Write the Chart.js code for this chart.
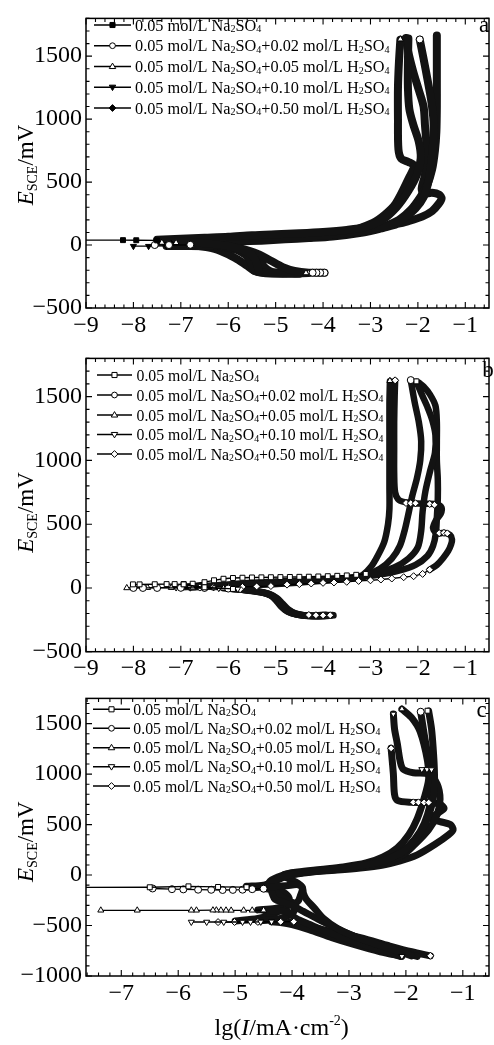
<!DOCTYPE html>
<html><head><meta charset="utf-8">
<script src="https://cdn.jsdelivr.net/npm/chart.js@4/dist/chart.umd.min.js"></script>
<style>
html,body{margin:0;padding:0;background:#fff;}
#wrap{position:relative;width:494px;height:1045px;overflow:hidden;background:#fff;}
canvas{position:absolute;left:0;}
</style></head><body>
<div id="wrap">
<canvas id="ca" width="494" height="340" style="top:0px"></canvas>
<canvas id="cb" width="494" height="340" style="top:340px"></canvas>
<canvas id="cc" width="494" height="365" style="top:680px"></canvas>
</div>
<script>
// ---------- labels ----------
const legendLabels = [
  "0.05 mol/L Na{2}SO{4}",
  "0.05 mol/L Na{2}SO{4}+0.02 mol/L H{2}SO{4}",
  "0.05 mol/L Na{2}SO{4}+0.05 mol/L H{2}SO{4}",
  "0.05 mol/L Na{2}SO{4}+0.10 mol/L H{2}SO{4}",
  "0.05 mol/L Na{2}SO{4}+0.50 mol/L H{2}SO{4}"
];
const panelLetters = ["a","b","c"];
const xTicksAB = [-9,-8,-7,-6,-5,-4,-3,-2,-1];
const yTicksAB = [-500,0,500,1000,1500];
const xTicksC = [-7,-6,-5,-4,-3,-2,-1];
const yTicksC = [-1000,-500,0,500,1000,1500];

// ---------- panel a : [lgI, E(mV)] ----------
const a1Cath = [[-5.35,-212],[-5.38,-170],[-5.42,-125],[-5.5,-80],[-5.7,-40],[-6.0,-8],[-6.5,15],[-7.0,30],[-7.5,37]];
const a1Marks = [[-7.5,37],[-7.94,38],[-8.22,39],[-9.8,40]];
const a1Anod = [[-7.5,42],[-7.0,50],[-6.5,58],[-6.0,66],[-5.5,78],[-5.0,86],[-4.5,93],[-4.0,103],[-3.5,120],[-3.1,145],[-2.75,200],[-2.45,300],[-2.2,430],[-2.02,560],[-1.94,690],[-1.98,820],[-2.1,960],[-2.18,1080],[-2.21,1250],[-2.21,1450],[-2.2,1640]];

const a2Cath = [[-3.97,-220],[-4.3,-219],[-4.6,-205],[-4.85,-175],[-5.1,-125],[-5.35,-75],[-5.7,-30],[-6.2,-5],[-6.8,2]];
const a2Marks = [[-6.8,2],[-7.25,0],[-7.55,0],null,[-3.97,-220],[-4.06,-220],[-4.14,-220],[-4.22,-220],null,[-1.96,1633]];
const a2Anod = [[-6.8,8],[-6.5,15],[-6.0,28],[-5.5,40],[-5.0,52],[-4.5,62],[-4.0,75],[-3.5,92],[-3.0,118],[-2.6,155],[-2.3,210],[-2.05,290],[-1.88,380],[-1.78,500],[-1.72,650],[-1.68,800],[-1.67,980],[-1.72,1150],[-1.8,1320],[-1.88,1480],[-1.96,1630]];

const a3Cath = [[-4.3,-222],[-4.6,-226],[-4.9,-228],[-5.2,-222],[-5.45,-205],[-5.5,-160],[-5.55,-110],[-5.75,-50],[-6.1,-10],[-6.6,8],[-7.1,18]];
const a3Marks = [[-7.1,18],[-7.4,20],null,[-4.3,-222],[-4.36,-222],null,[-2.37,1635]];
const a3Anod = [[-7.1,24],[-6.5,35],[-6.0,46],[-5.5,57],[-5.0,67],[-4.5,77],[-4.0,88],[-3.5,104],[-2.95,176],[-2.7,240],[-2.47,328],[-2.19,532],[-2.08,630],[-2.2,660],[-2.35,685],[-2.41,760],[-2.42,1000],[-2.42,1250],[-2.4,1450],[-2.37,1630]];

const a4Cath = [[-4.5,-228],[-4.8,-225],[-5.1,-210],[-5.25,-170],[-5.3,-130],[-5.45,-80],[-5.8,-35],[-6.3,-12],[-7.0,-8],[-7.3,-7]];
const a4Marks = [[-7.3,-7],[-7.68,-9],[-8.0,-9]];
const a4Anod = [[-7.3,-2],[-7.0,5],[-6.5,18],[-6.0,30],[-5.5,42],[-5.0,55],[-4.5,65],[-4.0,78],[-3.5,95],[-3.0,120],[-2.7,150],[-2.4,200],[-2.15,280],[-1.95,380],[-1.8,480],[-1.7,600],[-1.64,750],[-1.61,900],[-1.6,1100],[-1.6,1300],[-1.6,1500],[-1.6,1665]];

const a5Cath = [[-4.45,-222],[-4.75,-222],[-5.0,-225],[-5.25,-222],[-5.45,-205],[-5.6,-165],[-5.8,-115],[-6.05,-65],[-6.35,-25],[-6.8,0],[-7.2,10]];
const a5Marks = [[-7.2,10],[-7.5,12]];
const a5Anod = [[-7.2,15],[-6.8,18],[-6.3,22],[-5.8,28],[-5.3,35],[-4.8,45],[-4.3,55],[-3.8,68],[-3.16,100],[-2.8,130],[-2.47,163],[-2.2,190],[-1.91,226],[-1.7,270],[-1.56,328],[-1.5,370],[-1.55,400],[-1.7,415],[-1.88,410],[-1.92,450],[-1.86,540],[-1.82,650],[-1.82,800],[-1.85,950],[-1.88,1100],[-1.98,1230],[-2.1,1380],[-2.2,1530],[-2.25,1645]];

// ---------- panel b ----------
const b1Cath = [[-3.84,-215],[-4.15,-222],[-4.45,-216],[-4.68,-195],[-4.83,-160],[-4.93,-115],[-5.03,-75],[-5.2,-45],[-5.5,-22],[-5.9,-8]];
const b1Marks = [[-5.9,-8],[-6.5,5],[-6.94,28],[-7.13,30],[-7.3,30],[-7.55,29],[-7.87,28],[-8.01,28],null,
  [-6.94,30],[-6.75,33],[-6.5,45],[-6.3,60],[-6.1,72],[-5.9,78],[-5.7,80],[-5.5,82],[-5.3,83],[-5.1,84],[-4.9,85],[-4.7,86],[-4.5,87],[-4.3,88],[-4.1,90],[-3.9,92],[-3.7,95],[-3.5,98],[-3.3,103],[-3.1,110],null,[-2.03,1620]];
const b1Anod = [[-3.1,110],[-2.8,125],[-2.5,160],[-2.2,230],[-2.0,320],[-1.93,450],[-1.9,600],[-1.84,760],[-1.74,920],[-1.64,1060],[-1.63,1200],[-1.7,1320],[-1.8,1420],[-1.92,1520],[-2.03,1616]];

const b2Cath = [[-3.9,-212],[-4.2,-218],[-4.5,-212],[-4.72,-190],[-4.86,-150],[-4.96,-105],[-5.07,-65],[-5.25,-38],[-5.6,-18],[-6.0,-5]];
const b2Marks = [[-6.0,-5],[-6.5,0],[-7.0,1],[-7.5,0],[-7.8,0],[-8.0,0],null,[-2.15,1630]];
const b2Anod = [[-7.0,5],[-6.5,15],[-6.0,28],[-5.5,40],[-5.0,50],[-4.5,58],[-4.0,66],[-3.5,76],[-3.1,100],[-2.8,150],[-2.55,230],[-2.38,330],[-2.28,450],[-2.2,580],[-2.12,720],[-2.02,860],[-1.95,1000],[-1.93,1150],[-1.98,1300],[-2.07,1460],[-2.15,1628]];

const b3Cath = [[-3.95,-210],[-4.25,-216],[-4.55,-208],[-4.75,-185],[-4.9,-140],[-5.0,-95],[-5.1,-60],[-5.3,-35],[-5.7,-15],[-6.1,-3]];
const b3Marks = [[-6.1,-3],[-6.3,0],[-6.5,0],[-6.75,0],[-7.2,2],[-7.7,2],[-8.14,0],null,[-2.59,1625]];
const b3Anod = [[-6.8,5],[-6.3,12],[-5.8,20],[-5.3,30],[-4.8,40],[-4.3,52],[-3.8,64],[-3.3,85],[-3.16,103],[-2.98,170],[-2.85,250],[-2.71,360],[-2.63,500],[-2.6,620],[-2.6,800],[-2.6,1000],[-2.6,1200],[-2.6,1450],[-2.59,1620]];

const b4Cath = [[-3.8,-212],[-4.1,-220],[-4.4,-214],[-4.62,-195],[-4.78,-160],[-4.9,-115],[-5.0,-75],[-5.15,-45],[-5.45,-22],[-5.8,-8]];
const b4Marks = [[-5.8,-8],[-6.2,-2],[-6.5,0],[-6.8,2],[-7.1,3]];
const b4Anod = [[-6.8,6],[-6.3,12],[-5.8,18],[-5.3,25],[-4.8,35],[-4.3,48],[-3.8,62],[-3.3,80],[-2.8,105],[-2.4,135],[-2.05,180],[-1.8,250],[-1.68,330],[-1.62,430],[-1.6,550],[-1.58,700],[-1.58,850],[-1.6,1000],[-1.6,1150],[-1.6,1300],[-1.63,1430],[-1.75,1520],[-1.88,1580],[-1.98,1610]];

const b5Cath = [[-3.78,-215],[-4.05,-222],[-4.35,-218],[-4.58,-200],[-4.74,-165],[-4.86,-120],[-4.97,-80],[-5.12,-50],[-5.4,-25],[-5.75,-10]];
const b5Marks = [[-5.75,-10],[-6.0,-3],[-6.31,5],[-6.6,3],[-7.0,2],null,
  [-6.6,5],[-6.31,5],[-6.0,5],[-5.7,8],[-5.4,12],[-5.1,15],[-4.76,26],[-4.5,30],[-4.25,35],[-4.0,40],[-3.77,43],[-3.5,48],[-3.25,55],[-3.0,60],[-2.78,66],[-2.55,74],[-2.3,84],[-2.09,92],[-1.9,110],[-1.75,143],null,
  [-4.3,-212],[-4.15,-214],[-4.0,-215],[-3.85,-214],null,
  [-2.25,666],[-2.15,665],[-2.05,664],null,[-1.75,658],[-1.65,652],null,[-1.55,430],[-1.45,432],[-1.38,428],null,[-2.48,1628]];
const b5Anod = [[-1.75,143],[-1.6,180],[-1.47,233],[-1.36,290],[-1.3,340],[-1.28,380],[-1.32,415],[-1.45,432],[-1.6,428],[-1.68,470],[-1.62,530],[-1.52,580],[-1.5,630],[-1.6,655],[-1.8,660],[-2.0,662],[-2.2,668],[-2.4,690],[-2.48,750],[-2.5,900],[-2.5,1100],[-2.5,1300],[-2.49,1500],[-2.48,1625]];

// ---------- panel c ----------
const c1Cath = [[-1.9,-800],[-2.3,-725],[-2.8,-630],[-3.2,-530],[-3.45,-430],[-3.62,-320],[-3.75,-240],[-3.8,-180],[-3.82,-120],[-3.9,-95],[-4.1,-105],[-4.4,-115],[-4.8,-120]];
const c1Marks = [[-4.8,-120],[-5.3,-118],[-5.82,-112],[-6.5,-121],[-8.0,-123],null,[-1.62,1628]];
const c1Anod = [[-4.8,-112],[-4.5,-100],[-4.3,-60],[-4.1,-10],[-3.8,25],[-3.4,50],[-3.0,75],[-2.6,110],[-2.3,160],[-2.0,250],[-1.8,380],[-1.65,520],[-1.55,680],[-1.5,850],[-1.5,1050],[-1.52,1250],[-1.55,1450],[-1.6,1625]];

const c2Cath = [[-1.8,-805],[-2.2,-740],[-2.7,-650],[-3.1,-560],[-3.5,-450],[-3.8,-360],[-4.0,-300],[-4.15,-270],[-4.3,-240],[-4.35,-180],[-4.38,-145],[-4.5,-135]];
const c2Marks = [[-4.5,-135],[-4.7,-140],[-4.87,-145],[-5.04,-147],[-5.22,-148],[-5.42,-146],[-5.65,-145],[-5.91,-142],[-6.11,-140],[-6.45,-133],null,[-1.74,1618]];
const c2Anod = [[-4.7,-130],[-4.5,-110],[-4.35,-70],[-4.2,-30],[-4.0,10],[-3.6,40],[-3.2,65],[-2.8,95],[-2.5,130],[-2.2,190],[-1.95,290],[-1.75,430],[-1.62,600],[-1.55,800],[-1.58,1000],[-1.62,1200],[-1.68,1400],[-1.74,1615]];

const c3Cath = [[-2.1,-805],[-2.5,-735],[-2.9,-660],[-3.3,-580],[-3.65,-500],[-3.9,-440],[-4.0,-400],[-4.05,-370],[-4.2,-355],[-4.5,-350]];
const c3Marks = [[-4.5,-348],[-4.7,-349],[-4.85,-349],[-5.07,-350],[-5.16,-349],[-5.25,-349],[-5.33,-348],[-5.39,-348],[-5.68,-349],[-5.77,-349],[-6.72,-349],[-7.36,-349],null,[-2.07,1644]];
const c3Anod = [[-4.6,-345],[-4.3,-330],[-4.05,-300],[-3.9,-262],[-3.85,-200],[-3.82,-130],[-3.9,-80],[-4.05,-40],[-4.15,0],[-3.9,30],[-3.5,55],[-3.1,80],[-2.7,120],[-2.4,180],[-2.15,270],[-1.95,400],[-1.8,560],[-1.68,760],[-1.6,950],[-1.62,1130],[-1.75,1421],[-1.9,1560],[-2.07,1644]];

const c4Cath = [[-2.07,-805],[-2.45,-760],[-2.9,-690],[-3.3,-620],[-3.7,-540],[-4.0,-490],[-4.2,-470],[-4.36,-463]];
const c4Marks = [[-4.36,-463],[-4.55,-464],[-4.73,-465],[-4.87,-465],[-5.2,-465],[-5.5,-465],[-5.77,-465],null,[-2.07,-805],null,[-1.72,1047],[-1.63,1047],[-1.55,1045],null,[-2.22,1596]];
const c4Anod = [[-4.6,-455],[-4.3,-440],[-4.1,-410],[-3.98,-370],[-3.95,-300],[-4.0,-270],[-4.15,-230],[-4.3,-160],[-4.4,-100],[-4.3,-50],[-4.1,-10],[-3.8,20],[-3.4,45],[-3.0,70],[-2.6,100],[-2.3,140],[-2.05,200],[-1.85,300],[-1.6,450],[-1.45,600],[-1.4,750],[-1.45,900],[-1.6,1000],[-1.87,1014],[-2.05,1050],[-2.1,1124],[-2.15,1300],[-2.2,1450],[-2.22,1596]];

const c5Cath = [[-1.57,-800],[-1.9,-760],[-2.3,-700],[-2.8,-620],[-3.3,-560],[-3.7,-510],[-3.95,-480],[-4.05,-468]];
const c5Marks = [[-3.97,-462],[-4.2,-463],[-4.6,-464],[-5.01,-465],[-5.3,-466],null,[-1.57,-800],null,[-1.87,720],[-1.78,720],[-1.68,719],[-1.6,718],null,[-2.26,1256]];
const c5Anod = [[-5.0,-455],[-4.6,-430],[-4.3,-380],[-4.1,-300],[-4.05,-230],[-4.15,-170],[-4.35,-120],[-4.4,-70],[-4.25,-20],[-4.0,20],[-3.6,35],[-3.2,50],[-2.8,70],[-2.4,100],[-2.1,140],[-1.8,200],[-1.5,300],[-1.25,400],[-1.17,449],[-1.22,500],[-1.4,530],[-1.55,560],[-1.45,610],[-1.33,660],[-1.4,700],[-1.6,718],[-1.9,720],[-2.15,740],[-2.2,800],[-2.22,1000],[-2.26,1256]];

// ---------- drawing code ----------
const F = '"Liberation Serif","Times New Roman",serif';
const stylesA = [{ps:'rect',fill:'#000'},{ps:'circle',fill:'#fff'},{ps:'triangle',fill:'#fff'},{ps:'triangle',rot:180,fill:'#000'},{ps:'rectRot',fill:'#000'}];
const stylesBC = [{ps:'rect',fill:'#fff'},{ps:'circle',fill:'#fff'},{ps:'triangle',fill:'#fff'},{ps:'triangle',rot:180,fill:'#fff'},{ps:'rectRot',fill:'#fff'}];

function toXY(arr){ return arr.map(p=>({x:p[0],y:p[1]})); }
function runs(arr){ const out=[]; let cur=[]; for(const p of arr){ if(p===null){ if(cur.length) out.push(cur); cur=[]; } else cur.push(p);} if(cur.length) out.push(cur); return out; }

function buildDatasets(curves, styles, bandW){
  const ds=[];
  curves.forEach((c,i)=>{
    const st=styles[i];
    [c.cath,c.anod].forEach(b=>ds.push({data:toXY(b),showLine:true,borderColor:'#131313',borderWidth:bandW,
      pointRadius:0,tension:0.3,borderJoinStyle:'round',borderCapStyle:'round',order:2,clip:0}));
    runs(c.marks).forEach(r=>ds.push({data:toXY(r),showLine:r.length>1,borderColor:'#000',borderWidth:1.3,tension:0,
      pointStyle:st.ps,pointRotation:st.rot||0,pointRadius:3.5,pointBackgroundColor:st.fill,pointBorderColor:'#000',
      pointBorderWidth:1,order:1,clip:0}));
  });
  return ds;
}

function fmt(v){ const r=Math.round(v); return r<0 ? '\u2212'+Math.abs(r) : String(r); }

function drawMarker(ctx, st, x, y, r){
  ctx.save(); ctx.fillStyle=st.fill; ctx.strokeStyle='#000'; ctx.lineWidth=1;
  ctx.beginPath();
  if(st.ps==='rect'){ ctx.rect(x-r*0.75,y-r*0.75,r*1.5,r*1.5); }
  else if(st.ps==='circle'){ ctx.arc(x,y,r*0.85,0,Math.PI*2); }
  else if(st.ps==='triangle'){ const s=st.rot?-1:1; ctx.moveTo(x,y-s*r); ctx.lineTo(x+r*0.95,y+s*r*0.6); ctx.lineTo(x-r*0.95,y+s*r*0.6); ctx.closePath(); }
  else { ctx.moveTo(x,y-r); ctx.lineTo(x+r,y); ctx.lineTo(x,y+r); ctx.lineTo(x-r,y); ctx.closePath(); }
  ctx.fill(); ctx.stroke(); ctx.restore();
}

function drawRich(ctx, text, x, y, size){
  const parts=text.split(/(\{[^}]*\})/); let cx=x;
  for(const p of parts){ if(!p) continue;
    if(p[0]==='{'){ const t=p.slice(1,-1); ctx.font=(size*0.62)+'px '+F; ctx.fillText(t,cx,y+size*0.1); cx+=ctx.measureText(t).width; }
    else { ctx.font=size+'px '+F; ctx.fillText(p,cx,y); cx+=ctx.measureText(p).width; }
  }
}

function drawSegs(ctx, segs, x, y){
  let cx=x;
  for(const s of segs){ ctx.font=s.f; ctx.fillText(s.t,cx,y+(s.dy||0)); cx+=ctx.measureText(s.t).width; }
}
function segsWidth(ctx, segs){ let w=0; for(const s of segs){ ctx.font=s.f; w+=ctx.measureText(s.t).width; } return w; }

function drawDeco(chart, cfg){
  const ctx=chart.ctx, a=chart.chartArea, xs=chart.scales.x, ys=chart.scales.y;
  ctx.save();
  ctx.fillStyle='#000'; ctx.strokeStyle='#000';
  ctx.lineWidth=1.5;
  ctx.strokeRect(a.left,a.top,a.right-a.left,a.bottom-a.top);
  ctx.lineWidth=1.1;
  ctx.beginPath();
  const xStep=0.2;
  for(let k=Math.ceil(cfg.xMin/xStep-1e-9); k*xStep<=cfg.xMax+1e-9; k++){
    const v=k*xStep, major=Math.abs(v-Math.round(v))<1e-6, L=major?6:3.5, px=xs.getPixelForValue(v);
    ctx.moveTo(px,a.bottom); ctx.lineTo(px,a.bottom-L);
    ctx.moveTo(px,a.top); ctx.lineTo(px,a.top+L);
  }
  for(let k=Math.ceil(cfg.yMin/100); k*100<=cfg.yMax; k++){
    const v=k*100, major=(v%500===0), L=major?6:3.5, py=ys.getPixelForValue(v);
    ctx.moveTo(a.left,py); ctx.lineTo(a.left+L,py);
    ctx.moveTo(a.right,py); ctx.lineTo(a.right-L,py);
  }
  ctx.stroke();
  cfg.legendRows.forEach((ly,i)=>{
    ctx.lineWidth=1.6; ctx.beginPath(); ctx.moveTo(cfg.lgX0,ly); ctx.lineTo(cfg.lgX1,ly); ctx.stroke();
    drawMarker(ctx,cfg.styles[i],(cfg.lgX0+cfg.lgX1)/2,ly,3.4);
    ctx.fillStyle='#000'; ctx.textBaseline='alphabetic'; ctx.textAlign='left';
    drawRich(ctx,legendLabels[i],cfg.lgTx,ly+5.5,cfg.lgSize);
  });
  ctx.font='23px '+F; ctx.textAlign='center'; ctx.textBaseline='alphabetic';
  ctx.fillText(cfg.letter,cfg.letterX,cfg.letterY);
  const yseg=[{t:'E',f:'italic 23px '+F},{t:'SCE',f:'14px '+F,dy:4},{t:'/mV',f:'23px '+F}];
  const w=segsWidth(ctx,yseg);
  ctx.save(); ctx.translate(cfg.ytX,cfg.ytY); ctx.rotate(-Math.PI/2); ctx.textAlign='left';
  drawSegs(ctx,yseg,-w/2,0); ctx.restore();
  if(cfg.xTitle){
    const xseg=[{t:'lg(',f:'24px '+F},{t:'I',f:'italic 24px '+F},{t:'/mA\u00B7cm',f:'24px '+F},{t:'-2',f:'14px '+F,dy:-10},{t:')',f:'24px '+F}];
    const w2=segsWidth(ctx,xseg); ctx.textAlign='left';
    drawSegs(ctx,xseg,cfg.xtX-w2/2,cfg.xtY);
  }
  ctx.restore();
}

function makeChart(id, cfg){
  const datasets=buildDatasets(cfg.curves,cfg.styles,cfg.bandW);
  return new Chart(document.getElementById(id),{
    type:'scatter',
    data:{datasets},
    options:{
      responsive:false, animation:false, devicePixelRatio:1, events:[],
      layout:{padding:{left:0,right:1,top:cfg.padTop,bottom:0}},
      plugins:{legend:{display:false},tooltip:{enabled:false}},
      scales:{
        x:{type:'linear',position:'bottom',min:cfg.xMin,max:cfg.xMax,
          afterBuildTicks:s=>{s.ticks=cfg.xTicks.map(v=>({value:v}));},
          afterFit:s=>{s.height=cfg.xAxisH;},
          grid:{display:false,drawTicks:false},border:{display:false},
          ticks:{autoSkip:false,maxRotation:0,minRotation:0,padding:3,color:'#000',font:{family:F,size:24},
            callback:v=>fmt(v)}},
        y:{type:'linear',position:'left',min:cfg.yMin,max:cfg.yMax,
          afterBuildTicks:s=>{s.ticks=cfg.yTicks.map(v=>({value:v}));},
          afterFit:s=>{s.width=86;},
          grid:{display:false,drawTicks:false},border:{display:false},
          ticks:{autoSkip:false,padding:4,color:'#000',font:{family:F,size:24},
            callback:v=>fmt(v)}}
      }
    },
    plugins:[{id:'deco',afterDraw(chart){drawDeco(chart,cfg);}}]
  });
}

makeChart('ca',{
  curves:[{cath:a1Cath,anod:a1Anod,marks:a1Marks},{cath:a2Cath,anod:a2Anod,marks:a2Marks},{cath:a3Cath,anod:a3Anod,marks:a3Marks},{cath:a4Cath,anod:a4Anod,marks:a4Marks},{cath:a5Cath,anod:a5Anod,marks:a5Marks}],
  styles:stylesA, bandW:8, xMin:-9, xMax:-0.5, yMin:-500, yMax:1800, xTicks:xTicksAB, yTicks:yTicksAB,
  padTop:7, xAxisH:32, legendRows:[25,45.7,66.5,87.2,108], lgX0:94, lgX1:131, lgTx:135, lgSize:16.3,
  letter:panelLetters[0], letterX:484, letterY:31.5, ytX:32.6, ytY:165, xTitle:false
});
makeChart('cb',{
  curves:[{cath:b1Cath,anod:b1Anod,marks:b1Marks},{cath:b2Cath,anod:b2Anod,marks:b2Marks},{cath:b3Cath,anod:b3Anod,marks:b3Marks},{cath:b4Cath,anod:b4Anod,marks:b4Marks},{cath:b5Cath,anod:b5Anod,marks:b5Marks}],
  styles:stylesBC, bandW:6.5, xMin:-9, xMax:-0.5, yMin:-500, yMax:1800, xTicks:xTicksAB, yTicks:yTicksAB,
  padTop:12.7, xAxisH:28.3, legendRows:[35,55,75,94.5,114], lgX0:97, lgX1:132, lgTx:136.5, lgSize:15.8,
  letter:panelLetters[1], letterX:488, letterY:37.3, ytX:32.6, ytY:172.5, xTitle:false
});
makeChart('cc',{
  curves:[{cath:c1Cath,anod:c1Anod,marks:c1Marks},{cath:c2Cath,anod:c2Anod,marks:c2Marks},{cath:c3Cath,anod:c3Anod,marks:c3Marks},{cath:c4Cath,anod:c4Anod,marks:c4Marks},{cath:c5Cath,anod:c5Anod,marks:c5Marks}],
  styles:stylesBC, bandW:7, xMin:-7.62, xMax:-0.54, yMin:-1000, yMax:1750, xTicks:xTicksC, yTicks:yTicksC,
  padTop:12.2, xAxisH:69, legendRows:[29.3,48.3,67.7,86.7,106], lgX0:93, lgX1:130, lgTx:133.3, lgSize:15.8,
  letter:panelLetters[2], letterX:481.7, letterY:36.7, ytX:32.6, ytY:161.7, xTitle:true, xtX:281.7, xtY:355
});
</script>
</body></html>
